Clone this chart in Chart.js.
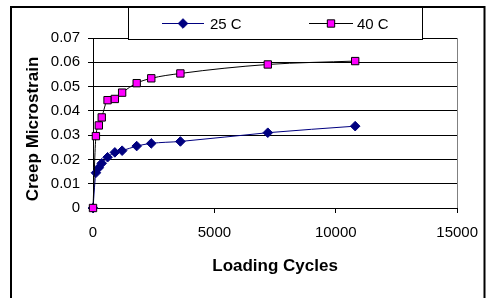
<!DOCTYPE html>
<html>
<head>
<meta charset="utf-8">
<script src="https://cdn.jsdelivr.net/npm/chart.js@4/dist/chart.umd.min.js"></script>
<style>
  html, body { margin: 0; padding: 0; background: #fff; }
  #wrap { position: relative; width: 489px; height: 298px; }
</style>
</head>
<body>
<div id="wrap"><canvas id="c" width="489" height="298"></canvas></div>
<script>
// ---- data ----
const loadingCycles = [0, 120, 240, 360, 600, 900, 1200, 1800, 2400, 3600, 7200, 10800];
const strain25C = [0, 0.0145, 0.0166, 0.0184, 0.0209, 0.0229, 0.0236, 0.0255, 0.0266, 0.0274, 0.031, 0.0337];
const strain40C = [0, 0.0296, 0.034, 0.0373, 0.0444, 0.0449, 0.0475, 0.0514, 0.0534, 0.0554, 0.0591, 0.0605];
const seriesLabels = ['25 C', '40 C'];
const xTicks = [0, 5000, 10000, 15000];
const yTicks = [0, 0.01, 0.02, 0.03, 0.04, 0.05, 0.06, 0.07];
const xTitle = 'Loading Cycles';
const yTitle = 'Creep Microstrain';

const FONT = "'Liberation Sans', Arial, sans-serif";

function pts(xs, ys) { return xs.map((x, i) => ({ x: x, y: ys[i] })); }

const frame = {
  id: 'frame',
  beforeDraw(chart) {
    const ctx = chart.ctx;
    ctx.save();
    ctx.fillStyle = '#fff';
    ctx.fillRect(0, 0, chart.width, chart.height);
    ctx.strokeStyle = '#000';
    ctx.lineWidth = 2;
    ctx.strokeRect(11, 7, 473.5, 320);
    ctx.restore();
  },
  beforeDatasetsDraw(chart) {
    const a = chart.chartArea, ctx = chart.ctx;
    ctx.save();
    ctx.strokeStyle = '#808080';
    ctx.lineWidth = 1;
    ctx.beginPath();
    ctx.moveTo(Math.round(a.right) + 0.5, a.top);
    ctx.lineTo(Math.round(a.right) + 0.5, a.bottom);
    ctx.stroke();
    // y-axis title, placed as in the reference
    ctx.fillStyle = '#000';
    ctx.font = 'bold 17px ' + FONT;
    ctx.textAlign = 'center';
    ctx.textBaseline = 'middle';
    ctx.translate(33, (a.top + a.bottom) / 2 + 6);
    ctx.rotate(-Math.PI / 2);
    ctx.fillText(yTitle, 0, 0);
    ctx.restore();
  },
  afterDraw(chart) {
    const ctx = chart.ctx;
    ctx.save();
    // legend box
    ctx.fillStyle = '#fff';
    ctx.fillRect(128, 7, 294, 33);
    ctx.strokeStyle = '#000';
    ctx.lineWidth = 1;
    ctx.strokeRect(128.5, 7.5, 294, 32);
    const entries = [
      { x0: 162, x1: 204, tx: 210 },
      { x0: 309, x1: 353, tx: 357 }
    ];
    const y = 23.5;
    chart.data.datasets.forEach((ds, i) => {
      const e = entries[i];
      ctx.strokeStyle = ds.borderColor;
      ctx.lineWidth = ds.borderWidth;
      ctx.beginPath();
      ctx.moveTo(e.x0, y);
      ctx.lineTo(e.x1, y);
      ctx.stroke();
      ctx.fillStyle = ds.pointBackgroundColor;
      ctx.strokeStyle = ds.pointBorderColor;
      ctx.lineWidth = ds.pointBorderWidth;
      Chart.helpers.drawPoint(ctx, { pointStyle: ds.pointStyle, radius: ds.pointRadius, borderWidth: ds.pointBorderWidth, rotation: 0 }, (e.x0 + e.x1) / 2, y);
      ctx.fillStyle = '#000';
      ctx.font = '15px ' + FONT;
      ctx.textBaseline = 'middle';
      ctx.textAlign = 'left';
      ctx.fillText(ds.label, e.tx, y + 1);
    });
    ctx.restore();
  }
};

new Chart(document.getElementById('c'), {
  type: 'scatter',
  data: {
    datasets: [
      {
        label: seriesLabels[0],
        data: pts(loadingCycles, strain25C),
        showLine: true,
        clip: false,
        borderColor: '#000080',
        borderWidth: 1,
        pointStyle: 'rectRot',
        pointRadius: 4.8,
        pointBackgroundColor: '#000080',
        pointBorderColor: '#000080',
        pointBorderWidth: 1,
        cubicInterpolationMode: 'monotone',
        order: 1
      },
      {
        label: seriesLabels[1],
        data: pts(loadingCycles, strain40C),
        showLine: true,
        clip: false,
        borderColor: '#000000',
        borderWidth: 1,
        pointStyle: 'rect',
        pointRadius: 5.2,
        pointBackgroundColor: '#FF00FF',
        pointBorderColor: '#000000',
        pointBorderWidth: 1,
        cubicInterpolationMode: 'monotone',
        order: 0
      }
    ]
  },
  options: {
    responsive: false,
    animation: false,
    devicePixelRatio: 1,
    layout: { padding: { left: 0, top: 38, right: 29, bottom: 0 } },
    plugins: { legend: { display: false }, tooltip: { enabled: false } },
    scales: {
      x: {
        type: 'linear',
        min: 0, max: 15000,
        afterFit(s) { s.height = 90; },
        afterBuildTicks(s) { s.ticks = xTicks.map(v => ({ value: v })); },
        ticks: { color: '#000', font: { family: FONT, size: 15 }, padding: 11, callback: v => String(v), maxRotation: 0 },
        grid: { drawOnChartArea: false, drawTicks: true, tickLength: 5, color: '#000' },
        border: { color: '#000', width: 1 },
        title: { display: true, text: xTitle, color: '#000', font: { family: FONT, size: 17, weight: 'bold' }, padding: { top: 0, bottom: 21 } }
      },
      y: {
        type: 'linear',
        min: 0, max: 0.07,
        afterFit(s) { s.width = 93; },
        afterBuildTicks(s) { s.ticks = yTicks.map(v => ({ value: v })); },
        ticks: { color: '#000', font: { family: FONT, size: 15 }, padding: 8, callback: v => (v === 0 ? '0' : v.toFixed(2)) },
        grid: { color: '#000', lineWidth: 1, drawTicks: true, tickLength: 5 },
        border: { color: '#000', width: 1 },
        title: { display: false, text: yTitle }
      }
    }
  },
  plugins: [frame]
});
</script>
</body>
</html>
